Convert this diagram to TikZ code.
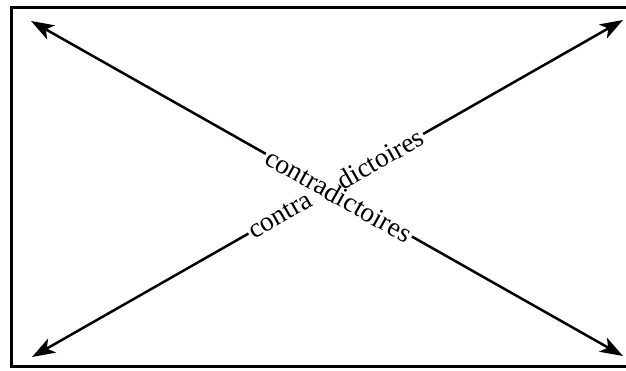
\documentclass[tikz,border=0pt]{standalone}
\usepackage{fontspec}
\setmainfont{Liberation Serif}
\usetikzlibrary{arrows.meta}
\begin{document}
\begin{tikzpicture}[x=1pt,y=-1pt,
  >={Stealth[length=23pt,width=16pt,inset=6pt]},
  frame/.style={line width=3pt},
  diag/.style={line width=2.5pt},
  lbl/.style={sloped,inner sep=2pt,font=\fontsize{27.5}{30}\selectfont}]
\useasboundingbox (0,0) rectangle (626,370);
% open frame: left, top and bottom sides
\draw[frame] (640,7.5) -- (11.5,7.5) -- (11.5,366.5) -- (640,366.5);
% end points of the two diagonals
\coordinate (tl) at (31,21);
\coordinate (br) at (623,356);
\coordinate (bl) at (32,357);
\coordinate (tr) at (623,20);
% labels set along each diagonal
\path (tl) -- (br) node[lbl,pos=0.52] (down) {contradictoires};
\path (bl) -- (tr) node[lbl,pos=0.42] (upa) {contra}
                   node[lbl,pos=0.589] (upb) {dictoires};
% diagonals, broken where the labels sit
\draw[diag,<-] (tl) -- (down.west);
\draw[diag,->] (down.east) -- (br);
\draw[diag,<-] (bl) -- (upa.west);
\draw[diag,->] (upb.east) -- (tr);
\end{tikzpicture}
\end{document}
